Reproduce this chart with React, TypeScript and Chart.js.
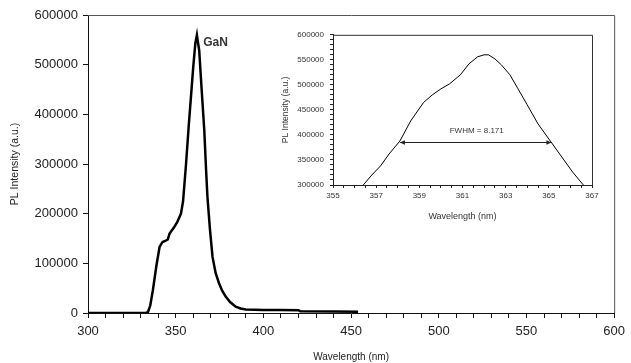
import React, { useEffect, useRef } from "react";
import { Chart, registerables } from "chart.js";

Chart.register(...registerables);

// Main spectrum (wavelength nm, PL intensity a.u.)
const mainWavelength = [300, 333, 334.2, 335.5, 337, 339, 340.8, 342.5, 344, 345.5, 346.5, 349, 351, 353, 354.2, 355.9, 357.5, 358.7, 360, 361.2, 362.1, 362.7, 363.4, 364.8, 366.3, 367.3, 368.1, 369.5, 371, 372.8, 374.7, 376.5, 378.5, 381, 384.2, 387, 390, 400, 410, 420, 421, 440, 454];
const mainIntensity = [0, 0, 2000, 15000, 46000, 95000, 133000, 143000, 145000, 148000, 160000, 172000, 184000, 200000, 225000, 300000, 380000, 435000, 495000, 543000, 560000, 545000, 529000, 450000, 368000, 290000, 234000, 170000, 113000, 80000, 60000, 45000, 33000, 22000, 12700, 9000, 7000, 6000, 6000, 5500, 3500, 3000, 2500];

// Inset (zoom around peak)
const insetWavelength = [356.4, 356.8, 357.2, 357.6, 358.1, 358.6, 359.2, 359.6, 360.0, 360.4, 360.9, 361.3, 361.7, 362.0, 362.2, 362.5, 362.8, 363.2, 363.6, 364.0, 364.5, 365.1, 365.6, 366.1, 366.6];
const insetIntensity = [300000, 320000, 338000, 362000, 388000, 428000, 465000, 480000, 492000, 502000, 520000, 542000, 556000, 560000, 560000, 552000, 540000, 520000, 490000, 460000, 422000, 386000, 356000, 326000, 300000];

const mainXTicks = [300, 350, 400, 450, 500, 550, 600];
const insetXTicks = [355, 357, 359, 361, 363, 365, 367];

const peakLabel = "GaN";
const peakLabelPos = { x: 365.7, y: 544000 };
const fwhmText = "FWHM = 8.171";
const fwhmLeft = 358.1;
const fwhmRight = 365.12;
const fwhmLevel = 386000;
const fwhmTextPos = { x: 361.66, y: 409000 };

const FONT = "'Liberation Sans', Arial, sans-serif";

const boxPlugin = (color: string, width: number) => ({
  id: "box",
  afterDraw(chart: any) {
    const { ctx, chartArea: a } = chart;
    ctx.save();
    ctx.strokeStyle = color;
    ctx.lineWidth = width;
    ctx.beginPath();
    ctx.moveTo(a.left, a.top + 0.5);
    ctx.lineTo(a.right + 0.5, a.top + 0.5);
    ctx.lineTo(a.right + 0.5, a.bottom);
    ctx.stroke();
    ctx.restore();
  },
});

const gaNPlugin = {
  id: "gan",
  afterDatasetsDraw(chart: any) {
    const { ctx, scales } = chart;
    ctx.save();
    ctx.font = `bold 12px ${FONT}`;
    ctx.fillStyle = "#333";
    ctx.textAlign = "left";
    ctx.textBaseline = "middle";
    ctx.fillText(peakLabel, scales.x.getPixelForValue(peakLabelPos.x), scales.y.getPixelForValue(peakLabelPos.y));
    ctx.restore();
  },
};

const fwhmPlugin = {
  id: "fwhm",
  afterDatasetsDraw(chart: any) {
    const { ctx, scales } = chart;
    const x1 = scales.x.getPixelForValue(fwhmLeft);
    const x2 = scales.x.getPixelForValue(fwhmRight);
    const y = Math.round(scales.y.getPixelForValue(fwhmLevel)) + 0.5;
    ctx.save();
    ctx.strokeStyle = "#222";
    ctx.fillStyle = "#222";
    ctx.lineWidth = 1;
    ctx.beginPath();
    ctx.moveTo(x1, y);
    ctx.lineTo(x2, y);
    ctx.stroke();
    const head = (x: number, dir: number) => {
      ctx.beginPath();
      ctx.moveTo(x, y);
      ctx.lineTo(x + dir * 5, y - 2.2);
      ctx.lineTo(x + dir * 5, y + 2.2);
      ctx.closePath();
      ctx.fill();
    };
    head(x1, 1);
    head(x2, -1);
    ctx.font = `8px ${FONT}`;
    ctx.textAlign = "center";
    ctx.textBaseline = "middle";
    ctx.fillStyle = "#333";
    ctx.fillText(fwhmText, scales.x.getPixelForValue(fwhmTextPos.x), scales.y.getPixelForValue(fwhmTextPos.y));
    ctx.restore();
  },
};

export default function App() {
  const mainRef = useRef<HTMLCanvasElement>(null);
  const insetRef = useRef<HTMLCanvasElement>(null);

  useEffect(() => {
    const mainChart = new Chart(mainRef.current as HTMLCanvasElement, {
      type: "line",
      data: {
        datasets: [
          {
            data: mainWavelength.map((x, i) => ({ x, y: mainIntensity[i] })),
            borderColor: "#000",
            borderWidth: 2.5,
            pointRadius: 0,
            tension: 0,
            fill: false,
          },
        ],
      },
      options: {
        responsive: false,
        animation: false,
        layout: { padding: { left: 0, top: 15, right: 13, bottom: 0 } },
        plugins: { legend: { display: false }, tooltip: { enabled: false } },
        scales: {
          x: {
            type: "linear",
            min: 300,
            max: 600,
            afterFit: (s: any) => { s.height = 50; },
            border: { display: true, color: "#111", width: 1 },
            grid: { drawOnChartArea: false, drawTicks: true, tickLength: 5, color: "#111" },
            ticks: {
              stepSize: 10,
              autoSkip: false,
              maxRotation: 0,
              padding: 6,
              color: "#222",
              font: { family: FONT, size: 13 },
              callback: (v: any) => (mainXTicks.includes(Number(v)) ? String(v) : ""),
            },
            title: {
              display: true,
              text: "Wavelength (nm)",
              color: "#222",
              font: { family: FONT, size: 10 },
              padding: { top: 0, bottom: 0 },
            },
          },
          y: {
            type: "linear",
            min: 0,
            max: 600000,
            afterFit: (s: any) => { s.width = 88; },
            border: { display: true, color: "#111", width: 1 },
            grid: { drawOnChartArea: false, drawTicks: true, tickLength: 5, color: "#111" },
            ticks: {
              stepSize: 100000,
              padding: 5,
              color: "#222",
              font: { family: FONT, size: 13 },
              callback: (v: any) => String(v),
            },
            title: {
              display: true,
              text: "PL Intensity (a.u.)",
              color: "#222",
              font: { family: FONT, size: 10.5 },
              padding: { top: 9, bottom: 0 },
            },
          },
        },
      },
      plugins: [boxPlugin("#555", 1), gaNPlugin],
    } as any);

    const insetChart = new Chart(insetRef.current as HTMLCanvasElement, {
      type: "line",
      data: {
        datasets: [
          {
            data: insetWavelength.map((x, i) => ({ x, y: insetIntensity[i] })),
            borderColor: "#000",
            borderWidth: 1,
            pointRadius: 0,
            tension: 0,
            fill: false,
          },
        ],
      },
      options: {
        responsive: false,
        animation: false,
        layout: { padding: { left: 0, top: 10, right: 14, bottom: 0 } },
        plugins: { legend: { display: false }, tooltip: { enabled: false } },
        scales: {
          x: {
            type: "linear",
            min: 355,
            max: 367,
            afterFit: (s: any) => { s.height = 39; },
            border: { display: true, color: "#222", width: 1 },
            grid: { drawOnChartArea: false, drawTicks: true, tickLength: 3, color: "#222" },
            ticks: {
              stepSize: 0.5,
              autoSkip: false,
              maxRotation: 0,
              padding: 3,
              color: "#333",
              font: { family: FONT, size: 8 },
              callback: (v: any) => (insetXTicks.includes(Number(v)) ? String(v) : ""),
            },
            title: {
              display: true,
              text: "Wavelength (nm)",
              color: "#333",
              font: { family: FONT, size: 9 },
              padding: { top: 0, bottom: 2 },
            },
          },
          y: {
            type: "linear",
            min: 300000,
            max: 600000,
            afterFit: (s: any) => { s.width = 57; },
            border: { display: true, color: "#222", width: 1 },
            grid: { drawOnChartArea: false, drawTicks: true, tickLength: 3, color: "#222" },
            ticks: {
              stepSize: 10000,
              autoSkip: false,
              padding: 6,
              color: "#333",
              font: { family: FONT, size: 8 },
              callback: (v: any) => (Number(v) % 50000 === 0 ? String(v) : ""),
            },
            title: {
              display: true,
              text: "PL Intensity (a.u.)",
              color: "#333",
              font: { family: FONT, size: 8.5 },
              padding: { top: 5, bottom: 0 },
            },
          },
        },
      },
      plugins: [boxPlugin("#333", 1), fwhmPlugin],
    } as any);

    return () => {
      mainChart.destroy();
      insetChart.destroy();
    };
  }, []);

  return (
    <div style={{ position: "fixed", left: 0, top: 0, width: 631, height: 363, background: "#fff" }}>
      <canvas ref={mainRef} width={631} height={363} style={{ position: "absolute", left: 0, top: 0 }} />
      <canvas ref={insetRef} width={330} height={200} style={{ position: "absolute", left: 276, top: 24 }} />
    </div>
  );
}
